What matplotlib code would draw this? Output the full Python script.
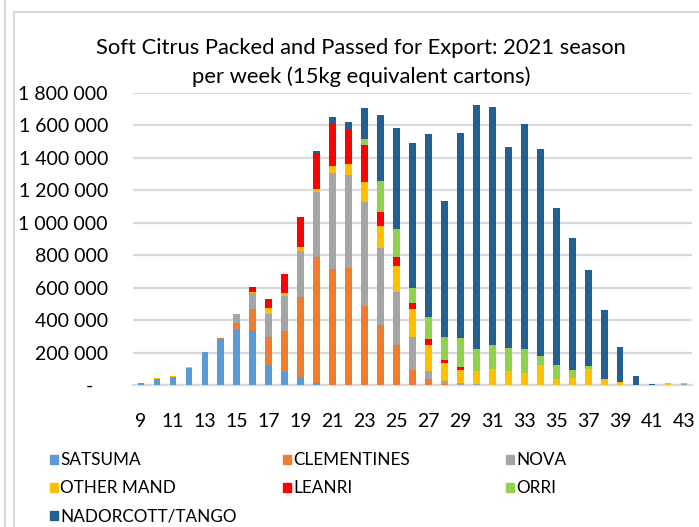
import numpy as np
import matplotlib
matplotlib.use('Agg')
import matplotlib.pyplot as plt
from matplotlib.lines import Line2D
from matplotlib.patches import Rectangle

plt.rcParams['font.family'] = ['Lato', 'DejaVu Sans']

weeks = list(range(9, 44))

# values per week, weeks 9..43 (cartons)
satsuma = [12000, 37000, 52000, 107000, 204000, 285000, 346000, 335000, 122000,
           82000, 47000, 10000, 3000, 0, 0, 0, 0, 0, 0, 0, 0, 0, 0, 0, 0, 0,
           0, 0, 0, 0, 0, 0, 0, 0, 0]
clementines = [0, 0, 0, 0, 0, 3000, 37000, 132000, 172000, 249000, 498000,
               776000, 714000, 720000, 489000, 370000, 249000, 93000, 35000,
               6000, 0, 0, 0, 0, 0, 0, 0, 0, 0, 0, 0, 0, 0, 0, 0]
nova = [0, 2000, 0, 0, 0, 0, 53000, 99000, 146000, 220000, 284000, 401000,
        588000, 576000, 642000, 477000, 327000, 205000, 51000, 21000, 10000,
        8000, 3000, 0, 0, 0, 0, 0, 0, 0, 0, 0, 0, 3000, 4000]
other_mand = [3000, 3000, 3000, 3000, 2000, 3000, 4000, 10000, 33000, 17000,
              23000, 23000, 45000, 68000, 122000, 136000, 160000, 171000,
              161000, 107000, 85000, 76000, 95000, 88000, 76000, 125000, 35000,
              41000, 97000, 35000, 18000, 0, 0, 10000, 6000]
leanri = [0, 0, 0, 0, 0, 0, 0, 31000, 58000, 117000, 183000, 220000, 266000,
          210000, 226000, 85000, 50000, 37000, 39000, 20000, 14000, 0, 0, 0, 0,
          0, 0, 0, 0, 0, 0, 0, 0, 0, 0]
orri = [0, 0, 0, 0, 0, 0, 0, 0, 0, 0, 0, 0, 0, 0, 39000, 189000, 177000,
        94000, 134000, 140000, 181000, 136000, 146000, 140000, 146000, 52000,
        88000, 52000, 20000, 3000, 0, 0, 0, 0, 0]
nadorcott = [0, 0, 0, 0, 0, 0, 0, 0, 0, 0, 0, 10000, 33000, 47000, 187000,
             409000, 621000, 892000, 1127000, 840000, 1263000, 1506000,
             1469000, 1239000, 1389000, 1278000, 969000, 812000, 593000,
             425000, 215000, 54000, 6000, 0, 0]

series_names = ['SATSUMA', 'CLEMENTINES', 'NOVA', 'OTHER MAND', 'LEANRI',
                'ORRI', 'NADORCOTT/TANGO']
series_values = [satsuma, clementines, nova, other_mand, leanri, orri,
                 nadorcott]
colors = ['#5B9BD5', '#ED7D31', '#A5A5A5', '#FFC000', '#FF0000', '#92D050',
          '#255E91']

y_ticks = [0, 200000, 400000, 600000, 800000, 1000000, 1200000, 1400000,
           1600000, 1800000]
y_labels = ['-   ', '200 000', '400 000', '600 000', '800 000', '1 000 000',
            '1 200 000', '1 400 000', '1 600 000', '1 800 000']
x_ticks = list(range(9, 44, 2))

W, H = 699, 527
fig = plt.figure(figsize=(W / 100, H / 100), dpi=100)
ax = fig.add_axes([133 / W, 1 - 385 / H, (692 - 133) / W, (385 - 93) / H])

bottom = np.zeros(len(weeks))
for name, vals, col in zip(series_names, series_values, colors):
    ax.bar(weeks, vals, width=0.42, bottom=bottom, color=col, label=name,
           zorder=3)
    bottom += np.array(vals)

ax.set_xlim(8.5, 43.5)
ax.set_ylim(0, 1800000)
ax.set_yticks(y_ticks)
ax.set_yticklabels(y_labels)
ax.set_xticks(x_ticks)
ax.tick_params(axis='both', length=0, labelsize=14, colors='black')
ax.tick_params(axis='y', pad=18)
ax.tick_params(axis='x', pad=20)
ax.grid(axis='y', color='#d9d9d9', linewidth=1.6, zorder=0)
for side in ['top', 'right', 'left']:
    ax.spines[side].set_visible(False)
ax.spines['bottom'].set_color('#d9d9d9')
ax.spines['bottom'].set_linewidth(1.6)

fig.text(361 / W, 1 - 48 / H, 'Soft Citrus Packed and Passed for Export: 2021 season',
         ha='center', va='center', fontsize=15.8)
fig.text(361 / W, 1 - 77 / H, 'per week (15kg equivalent cartons)',
         ha='center', va='center', fontsize=15.8)

# legend laid out like the original: 3 equal columns, row by row
col_x = [50, 283, 506]
row_y = [459, 487, 515]
for i, (name, col) in enumerate(zip(series_names, colors)):
    cx = col_x[i % 3]
    cy = row_y[i // 3]
    fig.add_artist(Rectangle((cx / W, 1 - (cy + 4.5) / H), 8 / W, 9 / H,
                             transform=fig.transFigure, color=col))
    fig.text((cx + 10) / W, 1 - (cy + 6) / H, name, ha='left', va='baseline',
             fontsize=12.3)

# chart frame lines
frame = '#d9d9d9'
fig.add_artist(Line2D([5 / W, 5 / W], [0, 1], color=frame, lw=1.5))
fig.add_artist(Line2D([13.5 / W, 13.5 / W], [0, 1 - 12 / H], color=frame, lw=1.5))
fig.add_artist(Line2D([13.5 / W, 1], [1 - 12 / H, 1 - 12 / H], color=frame, lw=1.5))

fig.savefig('out.png', dpi=100)
